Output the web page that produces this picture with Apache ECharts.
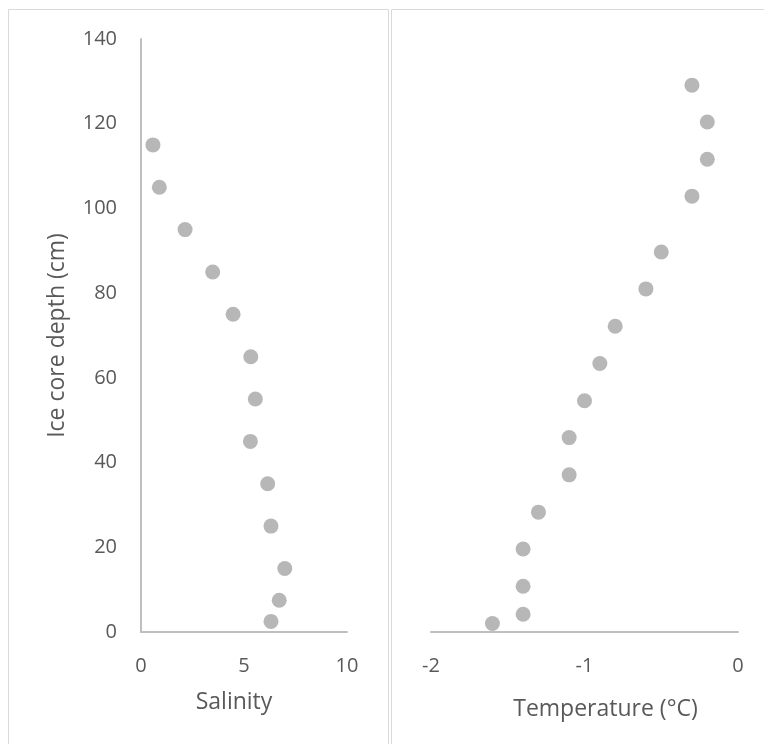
<!DOCTYPE html>
<html>
<head>
<meta charset="utf-8">
<script src="https://cdn.jsdelivr.net/npm/echarts@6/dist/echarts.min.js"></script>
<style>
html,body{margin:0;padding:0;background:#fff;}
#chart{width:764px;height:744px;}
</style>
</head>
<body>
<div id="chart"></div>
<script>
// Salinity profile
const salinityDepth = [115, 105, 95, 85, 75, 65, 55, 45, 35, 25, 15, 7.5, 2.5];
const salinityValues = [0.58, 0.89, 2.14, 3.48, 4.47, 5.33, 5.55, 5.31, 6.15, 6.31, 6.98, 6.71, 6.31];
// Temperature profile
const tempDepth = [129.1, 120.4, 111.6, 102.9, 89.7, 81.0, 72.2, 63.4, 54.6, 45.9, 37.1, 28.3, 19.6, 10.8, 4.2, 2.0];
const tempValues = [-0.3, -0.2, -0.2, -0.3, -0.5, -0.6, -0.8, -0.9, -1.0, -1.1, -1.1, -1.3, -1.4, -1.4, -1.4, -1.6];
// Axis settings
const depthRange = [0, 140];
const depthStep = 20;
const salinityRange = [0, 10];
const salinityStep = 5;
const tempRange = [-2, 0];
const tempStep = 1;
const yTitle = 'Ice core depth (cm)';
const xTitleLeft = 'Salinity';
const xTitleRight = 'Temperature (°C)';

const FONT = '"Open Sans", sans-serif';
const LABEL = '#595959';
const AXIS = '#bfbfbf';
const DOT = '#a5a5a5';

const chart = echarts.init(document.getElementById('chart'), null, {renderer: 'canvas'});
const opt = {
  backgroundColor: '#ffffff',
  animation: false,
  graphic: [
    {type: 'rect', shape: {x: 8.5, y: 9.5, width: 380, height: 760}, style: {fill: 'none', stroke: '#d9d9d9', lineWidth: 1}, silent: true},
    {type: 'rect', shape: {x: 391.5, y: 9.5, width: 400, height: 760}, style: {fill: 'none', stroke: '#d9d9d9', lineWidth: 1}, silent: true}
  ],
  grid: [
    {left: 141, right: 417, top: 39, bottom: 112},
    {left: 431, right: 26, top: 39, bottom: 112}
  ],
  xAxis: [
    {
      gridIndex: 0, type: 'value', min: salinityRange[0], max: salinityRange[1], interval: salinityStep,
      axisLine: {show: true, onZero: false, lineStyle: {color: AXIS, width: 2}},
      axisTick: {show: false}, splitLine: {show: false},
      axisLabel: {color: LABEL, fontFamily: FONT, fontSize: 20, margin: 24},
      name: xTitleLeft, nameLocation: 'middle', nameGap: 59,
      nameTextStyle: {color: LABEL, fontFamily: FONT, fontSize: 23, padding: [0, 20, 0, 0]}
    },
    {
      gridIndex: 1, type: 'value', min: tempRange[0], max: tempRange[1], interval: tempStep,
      axisLine: {show: true, onZero: false, lineStyle: {color: AXIS, width: 2}},
      axisTick: {show: false}, splitLine: {show: false},
      axisLabel: {color: LABEL, fontFamily: FONT, fontSize: 20, margin: 24},
      name: xTitleRight, nameLocation: 'middle', nameGap: 66,
      nameTextStyle: {color: LABEL, fontFamily: FONT, fontSize: 23, padding: [0, 0, 0, 42]}
    }
  ],
  yAxis: [
    {
      gridIndex: 0, type: 'value', min: depthRange[0], max: depthRange[1], interval: depthStep,
      axisLine: {show: true, lineStyle: {color: AXIS, width: 2}},
      axisTick: {show: false}, splitLine: {show: false},
      axisLabel: {color: LABEL, fontFamily: FONT, fontSize: 20, margin: 24},
      name: yTitle, nameLocation: 'middle', nameGap: 72, nameRotate: 90,
      nameTextStyle: {color: LABEL, fontFamily: FONT, fontSize: 23}
    },
    {
      gridIndex: 1, type: 'value', min: depthRange[0], max: depthRange[1], interval: depthStep,
      axisLine: {show: false}, axisTick: {show: false}, splitLine: {show: false},
      axisLabel: {show: false}
    }
  ],
  series: [
    {
      type: 'scatter', xAxisIndex: 0, yAxisIndex: 0, symbolSize: 15,
      itemStyle: {color: DOT},
      data: salinityValues.map((v, i) => [v, salinityDepth[i]])
    },
    {
      type: 'scatter', xAxisIndex: 1, yAxisIndex: 1, symbolSize: 15,
      itemStyle: {color: DOT},
      data: tempValues.map((v, i) => [v, tempDepth[i]])
    }
  ]
};
chart.setOption(opt);
</script>
</body>
</html>
